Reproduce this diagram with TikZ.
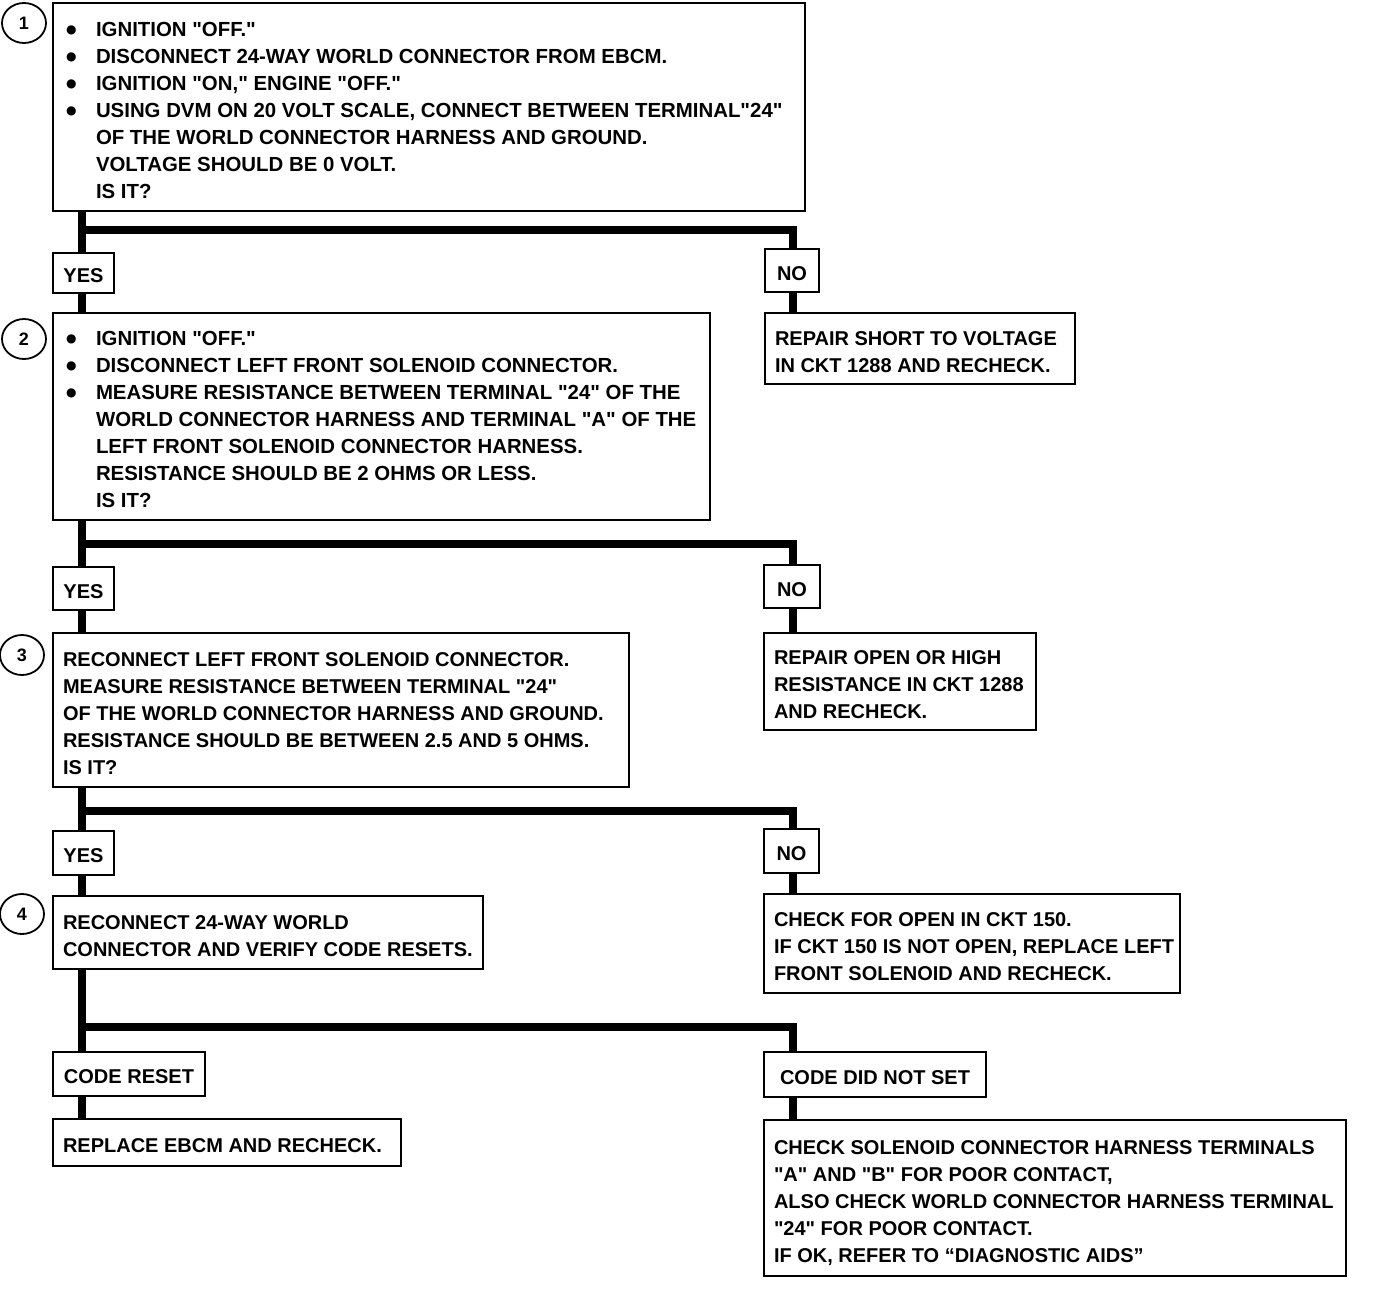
\documentclass[tikz,border=0pt]{standalone}
\usepackage{fontspec}
\setmainfont{Liberation Sans}[Ligatures=TeXOff]
\newfontfamily\dejavu{DejaVu Sans}
\usetikzlibrary{shapes.geometric}
\newcommand{\bul}{\makebox[33pt][l]{\hspace*{3pt}\raisebox{3.2pt}{\dejavu\fontsize{12}{12}\selectfont ●}}}
\newcommand{\ind}{\hspace*{33pt}}
\newcommand{\txtlines}[2]{\raisebox{-5pt}[\height][\depth]{\makebox[#1][l]{\begin{tabular}{@{}l@{}}#2\end{tabular}}}}
\newcommand{\tagtxt}[1]{\raisebox{-3pt}[\height][\depth]{#1}}
\begin{document}
\begin{tikzpicture}[x=1pt,y=-1pt,
  box/.style={draw, line width=2.5pt, rectangle, anchor=north west, outer sep=0pt,
    inner xsep=10pt, inner ysep=0pt, font=\bfseries\fontsize{20}{27}\selectfont},
  widebox/.style={box, font=\bfseries\fontsize{20.4}{27}\selectfont},
  tag/.style={box, align=center},
  conn/.style={line width=8pt, line join=miter},
  num/.style={draw, ellipse, line width=1.8pt, minimum width=44pt, minimum height=40pt,
    inner sep=0pt, font=\bfseries\fontsize{18}{20}\selectfont}]
\useasboundingbox (0,0) rectangle (1376,1292);

% step 1
\node[widebox, minimum width=752pt, minimum height=208pt] (b1) at (53,3) {\txtlines{732pt}{%
\bul IGNITION "OFF."\\
\bul DISCONNECT 24-WAY WORLD CONNECTOR FROM EBCM.\\
\bul IGNITION "ON," ENGINE "OFF."\\
\bul USING DVM ON 20 VOLT SCALE, CONNECT BETWEEN TERMINAL"24"\\
\ind OF THE WORLD CONNECTOR HARNESS AND GROUND.\\
\ind VOLTAGE SHOULD BE 0 VOLT.\\
\ind IS IT?}};
\node[num] (n1) at (24,23) {1};
\node[tag, minimum width=61pt, minimum height=40pt] (yes1) at (53,253) {\tagtxt{YES}};
\node[tag, minimum width=54pt, minimum height=43pt] (no1) at (765,249) {\tagtxt{NO}};
\node[box, minimum width=310pt, minimum height=71pt] (r1) at (765,313) {\txtlines{290pt}{%
REPAIR SHORT TO VOLTAGE\\
IN CKT 1288 AND RECHECK.}};

% step 2
\node[widebox, minimum width=657pt, minimum height=207pt] (b2) at (53,313) {\txtlines{637pt}{%
\bul IGNITION "OFF."\\
\bul DISCONNECT LEFT FRONT SOLENOID CONNECTOR.\\
\bul MEASURE RESISTANCE BETWEEN TERMINAL "24" OF THE\\
\ind WORLD CONNECTOR HARNESS AND TERMINAL "A" OF THE\\
\ind LEFT FRONT SOLENOID CONNECTOR HARNESS.\\
\ind RESISTANCE SHOULD BE 2 OHMS OR LESS.\\
\ind IS IT?}};
\node[num] (n2) at (24,339) {2};
\node[tag, minimum width=61pt, minimum height=43pt] (yes2) at (53,567) {\tagtxt{YES}};
\node[tag, minimum width=56pt, minimum height=43pt] (no2) at (764,565) {\tagtxt{NO}};
\node[box, minimum width=272pt, minimum height=97pt] (r2) at (764,633) {\txtlines{252pt}{%
REPAIR OPEN OR HIGH\\
RESISTANCE IN CKT 1288\\
AND RECHECK.}};

% step 3
\node[box, minimum width=576pt, minimum height=154pt] (b3) at (53,633) {\txtlines{556pt}{%
RECONNECT LEFT FRONT SOLENOID CONNECTOR.\\
MEASURE RESISTANCE BETWEEN TERMINAL "24"\\
OF THE WORLD CONNECTOR HARNESS AND GROUND.\\
RESISTANCE SHOULD BE BETWEEN 2.5 AND 5 OHMS.\\
IS IT?}};
\node[num] (n3) at (22,655) {3};
\node[tag, minimum width=61pt, minimum height=44pt] (yes3) at (53,831) {\tagtxt{YES}};
\node[tag, minimum width=55pt, minimum height=44pt] (no3) at (764,829) {\tagtxt{NO}};
\node[box, minimum width=416pt, minimum height=99pt] (r3) at (764,894) {\txtlines{396pt}{%
CHECK FOR OPEN IN CKT 150.\\
IF CKT 150 IS NOT OPEN, REPLACE LEFT\\
FRONT SOLENOID AND RECHECK.}};

% step 4
\node[box, minimum width=430pt, minimum height=73pt] (b4) at (53,896) {\txtlines{410pt}{%
RECONNECT 24-WAY WORLD\\
CONNECTOR AND VERIFY CODE RESETS.}};
\node[num] (n4) at (22,914) {4};
\node[tag, minimum width=152pt, minimum height=44pt] (cr) at (53,1052) {\tagtxt{CODE RESET}};
\node[tag, minimum width=222pt, minimum height=45pt] (cdns) at (764,1052) {\tagtxt{CODE DID NOT SET}};
\node[box, minimum width=348pt, minimum height=47pt] (rep) at (53,1119) {\txtlines{328pt}{%
REPLACE EBCM AND RECHECK.}};
\node[box, minimum width=582pt, minimum height=156pt] (last) at (764,1120) {\txtlines{562pt}{%
CHECK SOLENOID CONNECTOR HARNESS TERMINALS\\
"A" AND "B" FOR POOR CONTACT,\\
ALSO CHECK WORLD CONNECTOR HARNESS TERMINAL\\
"24" FOR POOR CONTACT.\\
IF OK, REFER TO “DIAGNOSTIC AIDS”}};

% connectors
\coordinate (tx) at (82,0);
\coordinate (rx) at (793,0);
\coordinate (j1) at (82,230);
\coordinate (j2) at (82,544);
\coordinate (j3) at (82,811);
\coordinate (j4) at (82,1027);

\draw[conn] (b1.south -| tx) -- (yes1.north -| tx);
\draw[conn] (j1) -| (no1.north -| rx);
\draw[conn] (yes1.south -| tx) -- (b2.north -| tx);
\draw[conn] (no1.south -| rx) -- (r1.north -| rx);

\draw[conn] (b2.south -| tx) -- (yes2.north -| tx);
\draw[conn] (j2) -| (no2.north -| rx);
\draw[conn] (yes2.south -| tx) -- (b3.north -| tx);
\draw[conn] (no2.south -| rx) -- (r2.north -| rx);

\draw[conn] (b3.south -| tx) -- (yes3.north -| tx);
\draw[conn] (j3) -| (no3.north -| rx);
\draw[conn] (yes3.south -| tx) -- (b4.north -| tx);
\draw[conn] (no3.south -| rx) -- (r3.north -| rx);

\draw[conn] (b4.south -| tx) -- (cr.north -| tx);
\draw[conn] (j4) -| (cdns.north -| rx);
\draw[conn] (cr.south -| tx) -- (rep.north -| tx);
\draw[conn] (cdns.south -| rx) -- (last.north -| rx);
\end{tikzpicture}
\end{document}
